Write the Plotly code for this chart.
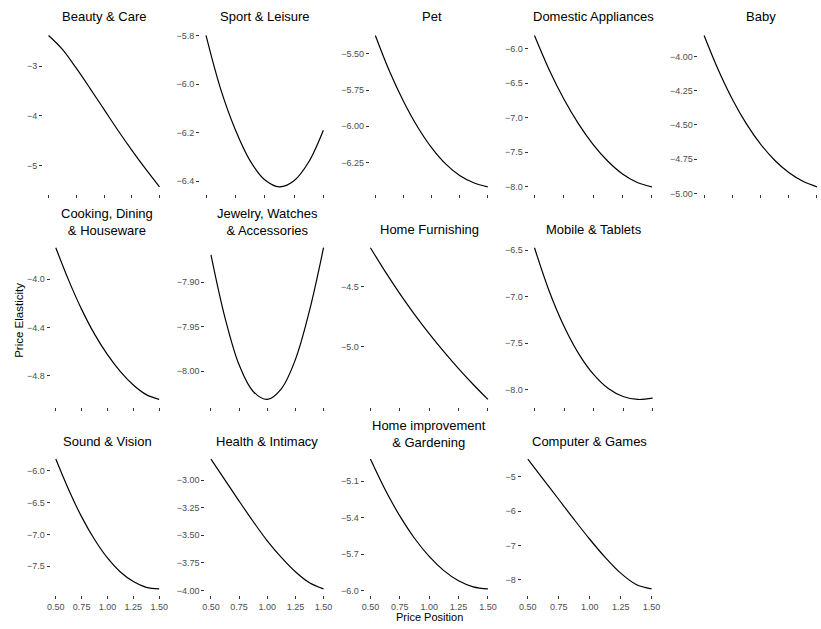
import plotly.graph_objects as go

W, H = 821, 629

# ---------------- data ----------------
price_position = [0.5, 0.625, 0.75, 0.875, 1.0, 1.125, 1.25, 1.375, 1.5]

categories = [
    "Beauty & Care", "Sport & Leisure", "Pet", "Domestic Appliances", "Baby",
    "Cooking, Dining<br>& Houseware", "Jewelry, Watches<br>& Accessories",
    "Home Furnishing", "Mobile & Tablets",
    "Sound & Vision", "Health & Intimacy", "Home improvement<br>& Gardening",
    "Computer & Games",
]

beauty_care      = [-2.38, -2.66, -3.04, -3.45, -3.87, -4.29, -4.69, -5.07, -5.43]
sport_leisure    = [-5.80, -6.021, -6.188, -6.315, -6.394, -6.423, -6.398, -6.321, -6.19]
pet              = [-5.374, -5.619, -5.827, -6.003, -6.147, -6.259, -6.339, -6.389, -6.417]
domestic_appl    = [-5.81, -6.305, -6.73, -7.09, -7.39, -7.632, -7.816, -7.94, -8.002]
baby             = [-3.847, -4.097, -4.312, -4.492, -4.640, -4.758, -4.848, -4.912, -4.952]
cooking_dining   = [-3.74, -4.01, -4.25, -4.455, -4.625, -4.765, -4.875, -4.955, -4.995]
jewelry_watches  = [-7.869, -7.94, -7.993, -8.023, -8.032, -8.020, -7.987, -7.932, -7.861]
home_furnishing  = [-4.179, -4.375, -4.559, -4.731, -4.891, -5.041, -5.181, -5.313, -5.437]
mobile_tablets   = [-6.475, -6.941, -7.317, -7.613, -7.834, -7.985, -8.071, -8.102, -8.088]
sound_vision     = [-5.819, -6.30, -6.725, -7.08, -7.37, -7.59, -7.74, -7.83, -7.855]
health_intimacy  = [-2.81, -3.00, -3.19, -3.375, -3.55, -3.70, -3.83, -3.93, -3.985]
home_improvement = [-4.917, -5.168, -5.386, -5.570, -5.720, -5.837, -5.921, -5.971, -5.988]
computer_games   = [-4.48, -5.07, -5.66, -6.25, -6.82, -7.35, -7.81, -8.14, -8.27]

elasticity = [beauty_care, sport_leisure, pet, domestic_appl, baby,
              cooking_dining, jewelry_watches, home_furnishing, mobile_tablets,
              sound_vision, health_intimacy, home_improvement, computer_games]

y_tick_values = [
    [-3, -4, -5], [-5.8, -6.0, -6.2, -6.4], [-5.5, -5.75, -6.0, -6.25],
    [-6.0, -6.5, -7.0, -7.5, -8.0], [-4.0, -4.25, -4.5, -4.75, -5.0],
    [-4.0, -4.4, -4.8], [-7.9, -7.95, -8.0], [-4.5, -5.0],
    [-6.5, -7.0, -7.5, -8.0], [-6.0, -6.5, -7.0, -7.5],
    [-3.0, -3.25, -3.5, -3.75, -4.0], [-5.1, -5.4, -5.7, -6.0], [-5, -6, -7, -8],
]
y_tick_decimals = [0, 1, 2, 1, 2, 1, 2, 1, 1, 1, 2, 1, 0]
x_tick_values = [0.5, 0.75, 1.0, 1.25, 1.5]

# ---------------- layout geometry (pixels) ----------------
row_of = [0, 0, 0, 0, 0, 1, 1, 1, 1, 2, 2, 2, 2]
row_px = [(35.7, 188.0), (249.3, 402.0), (462.0, 592.7)]
col_px = [
    (45.0, 157.0), (204.0, 322.5), (375.0, 488.5), (535.7, 654.3), (707.0, 821.0),
    (52.3, 156.7), (209.0, 322.7), (370.0, 488.7), (535.7, 655.0),
    (52.3, 156.7), (209.0, 322.7), (370.0, 488.7), (529.0, 654.0),
]
title_y = [16.7, 16.7, 16.7, 16.7, 16.7,
           223.0, 223.0, 230.5, 230.5,
           444.0, 444.0, 436.5, 444.0]

FONT = "Liberation Sans, Arial, Helvetica, sans-serif"
fig = go.Figure()
layout = dict(
    width=W, height=H, margin=dict(l=0, r=0, t=0, b=0),
    paper_bgcolor="white", plot_bgcolor="white", showlegend=False,
    font=dict(family=FONT, color="black"),
)
annotations = []

for i, vals in enumerate(elasticity):
    k = i + 1
    xa = "xaxis" if k == 1 else f"xaxis{k}"
    ya = "yaxis" if k == 1 else f"yaxis{k}"
    xref = "x" if k == 1 else f"x{k}"
    yref = "y" if k == 1 else f"y{k}"

    fig.add_trace(go.Scatter(
        x=price_position, y=vals, mode="lines",
        line=dict(color="black", width=1.2, shape="spline", smoothing=1.0),
        xaxis=xref, yaxis=yref, hoverinfo="skip",
    ))

    px0, px1 = col_px[i]
    span_px = px1 - px0
    left = px0 - 0.05 * span_px
    right = px1 + 0.05 * span_px
    xlo, xhi = 0.45, 1.55
    if right > W:
        xhi = 0.5 + (W - px0) / span_px
        right = W
    top, bot = row_px[row_of[i]]
    hpx = bot - top
    top_e, bot_e = top - 0.05 * hpx, bot + 0.05 * hpx
    ymin, ymax = min(vals), max(vals)
    sp = ymax - ymin
    show_x = row_of[i] == 2

    layout[xa] = dict(
        domain=[left / W, right / W], range=[xlo, xhi], anchor=yref,
        showgrid=False, zeroline=False, showline=False,
        ticks="outside", ticklen=3, tickwidth=1, tickcolor="#333333",
        tickvals=x_tick_values, tickformat=".2f", showticklabels=show_x,
        tickfont=dict(size=9, color="#4d4d4d", family=FONT),
    )
    layout[ya] = dict(
        domain=[1 - bot_e / H, 1 - top_e / H],
        range=[ymin - 0.05 * sp, ymax + 0.05 * sp], anchor=xref,
        showgrid=False, zeroline=False, showline=False,
        ticks="outside", ticklen=3, tickwidth=1, tickcolor="#333333",
        tickvals=y_tick_values[i], tickformat=f".{y_tick_decimals[i]}f",
        tickfont=dict(size=9, color="#4d4d4d", family=FONT),
    )
    annotations.append(dict(
        text=categories[i], x=(px0 + px1) / 2 / W, y=1 - title_y[i] / H,
        xref="paper", yref="paper", xanchor="center", yanchor="middle",
        showarrow=False, font=dict(size=13, color="black", family=FONT),
    ))

annotations.append(dict(
    text="Price Elasticity", x=15 / W, y=1 - 322 / H, xref="paper", yref="paper",
    textangle=-90, showarrow=False, xanchor="center", yanchor="middle",
    font=dict(size=11.5, color="black", family=FONT),
))
annotations.append(dict(
    text="Price Position", x=430 / W, y=1 - 621 / H, xref="paper", yref="paper",
    showarrow=False, xanchor="center", yanchor="middle",
    font=dict(size=11, color="black", family=FONT),
))
layout["annotations"] = annotations
fig.update_layout(**layout)
fig.write_html("out.html", config={"displayModeBar": False, "staticPlot": True},
               post_script="document.body.style.margin='0px';")
